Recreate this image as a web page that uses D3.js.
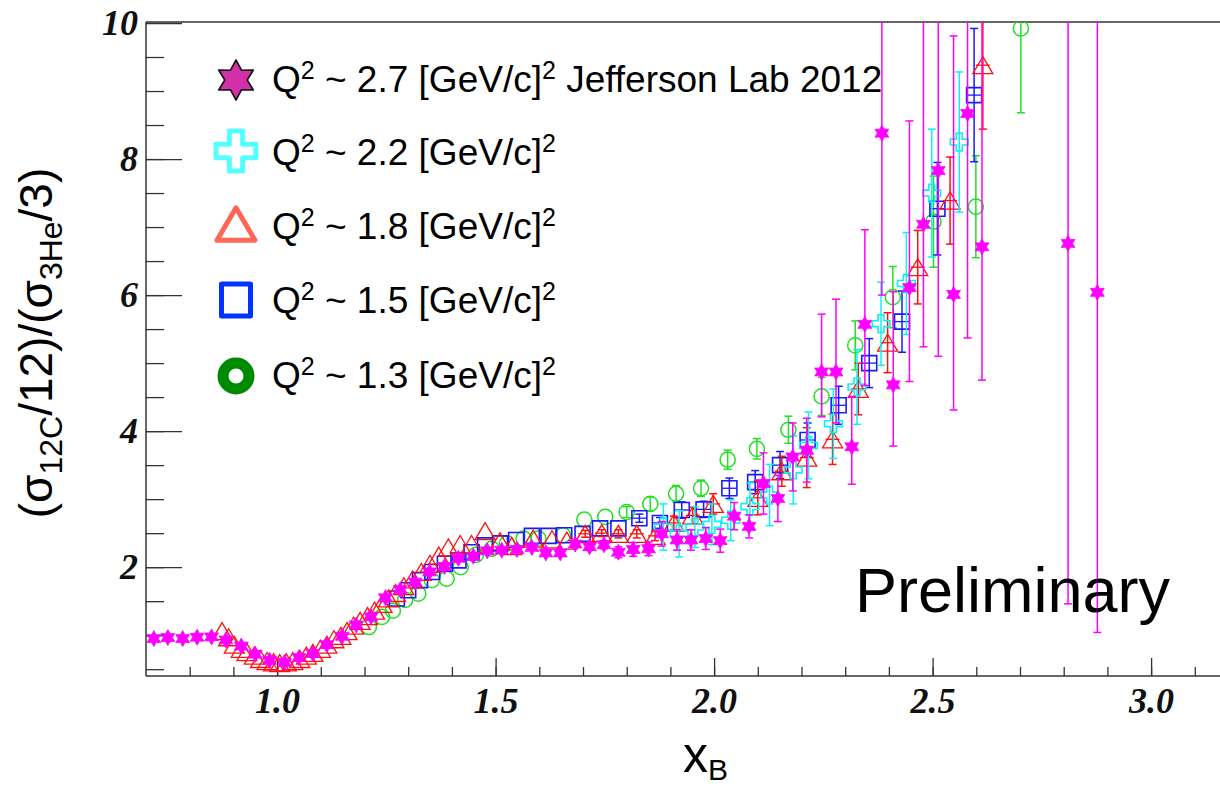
<!DOCTYPE html>
<html>
<head>
<meta charset="utf-8">
<script src="https://cdn.jsdelivr.net/npm/d3@7"></script>
<style>
body { margin: 0; background: #fff; }
</style>
</head>
<body>
<div id="graph"></div>
<script>
// values: ratio (sigma_12C/12)/(sigma_3He/3) vs x_B

// Q^2 ~ 2.7 Jefferson Lab 2012 (stars), asymmetric errors
const starX = [0.718, 0.75, 0.784, 0.817, 0.85, 0.883, 0.918, 0.95, 0.983, 1.017,
    1.05, 1.082, 1.114, 1.149, 1.181, 1.215, 1.248, 1.282, 1.316, 1.349,
    1.383, 1.415, 1.449, 1.481, 1.514, 1.549, 1.583, 1.615, 1.648, 1.682,
    1.715, 1.748, 1.781, 1.815, 1.85, 1.88, 1.915, 1.947, 1.981, 2.014,
    2.046, 2.08, 2.113, 2.146, 2.18, 2.212, 2.246, 2.279, 2.315, 2.345,
    2.384, 2.41, 2.447, 2.479, 2.513, 2.548, 2.58, 2.613, 2.81, 2.877];
const starY = [0.95, 0.965, 0.95, 0.97, 0.975, 0.93, 0.84, 0.72, 0.63, 0.60,
    0.67, 0.73, 0.86, 0.985, 1.15, 1.27, 1.55, 1.67, 1.78, 1.93,
    2.01, 2.13, 2.16, 2.24, 2.25, 2.26, 2.29, 2.21, 2.21, 2.34,
    2.30, 2.33, 2.22, 2.26, 2.27, 2.49, 2.40, 2.40, 2.42, 2.39,
    2.75, 2.60, 3.23, 3.01, 3.62, 3.72, 4.87, 4.87, 3.77, 5.57,
    8.38, 4.68, 6.11, 7.04, 7.83, 6.01, 8.67, 6.71, 6.76, 6.04];
const starErrLo = [0, 0, 0, 0, 0, 0, 0, 0, 0, 0,
    0, 0, 0, 0, 0, 0, 0, 0, 0, 0,
    0, 0, 0, 0, 0, 0, 0, 0, 0, 0.05,
    0.05, 0.06, 0.08, 0.1, 0.1, 0.18, 0.15, 0.15, 0.16, 0.17,
    0.2, 0.17, 0.45, 0.34, 0.5, 0.47, 0.66, 0.75, 0.55, 0.9,
    2.38, 0.9, 1.38, 1.8, 2.73, 1.7, 3.3, 1.96, 5.3, 5.0];
const starErrHi = [0, 0, 0, 0, 0, 0, 0, 0, 0, 0,
    0, 0, 0, 0, 0, 0, 0, 0, 0, 0,
    0, 0, 0, 0, 0, 0, 0, 0, 0, 0.05,
    0.05, 0.06, 0.08, 0.1, 0.1, 0.18, 0.15, 0.15, 0.16, 0.17,
    0.2, 0.17, 0.45, 0.34, 0.5, 0.47, 0.85, 1.07, 0.74, 1.39,
    5, 1.37, 2.45, 5, 5, 3.8, 5, 5, 5, 5];

// Q^2 ~ 2.2 (open crosses)
const crossX = [1.884, 1.92, 1.956, 1.995, 2.038, 2.082, 2.127, 2.181, 2.216, 2.273,
    2.327, 2.382, 2.44, 2.498, 2.561];
const crossY = [2.59, 2.49, 2.59, 2.63, 2.69, 2.89, 3.06, 3.43, 3.79, 4.11,
    4.65, 5.58, 6.17, 7.5, 8.25];
const crossErr = [0.34, 0.34, 0.3, 0.3, 0.3, 0.35, 0.45, 0.5, 0.49, 0.51,
    0.55, 0.61, 0.75, 0.94, 1.03];

// Q^2 ~ 1.8 (open triangles)
const triX = [0.874, 0.889, 0.902, 0.918, 0.931, 0.948, 0.962, 0.977, 0.992, 1.006,
    1.021, 1.036, 1.052, 1.067, 1.082, 1.099, 1.114, 1.13, 1.146, 1.16,
    1.175, 1.19, 1.207, 1.223, 1.24, 1.255, 1.271, 1.29, 1.31, 1.33,
    1.35, 1.37, 1.392, 1.419, 1.445, 1.476, 1.51, 1.537, 1.586, 1.629,
    1.663, 1.705, 1.743, 1.781, 1.823, 1.865, 1.908, 1.951, 1.998, 2.10,
    2.155, 2.212, 2.271, 2.33, 2.397, 2.466, 2.54, 2.615];
const triY = [1.06, 0.97, 0.86, 0.80, 0.75, 0.70, 0.65, 0.62, 0.60, 0.59,
    0.60, 0.62, 0.65, 0.70, 0.74, 0.80, 0.86, 0.94, 0.99, 1.06,
    1.14, 1.21, 1.28, 1.36, 1.46, 1.54, 1.62, 1.72, 1.82, 1.93,
    2.05, 2.17, 2.29, 2.34, 2.34, 2.53, 2.38, 2.31, 2.42, 2.41,
    2.39, 2.49, 2.50, 2.49, 2.49, 2.46, 2.65, 2.76, 2.93, 3.02,
    3.41, 3.61, 3.88, 4.62, 5.30, 6.41, 7.39, 9.38];
const triErr = [0, 0, 0, 0, 0, 0, 0, 0, 0, 0,
    0, 0, 0, 0, 0, 0, 0, 0, 0, 0,
    0, 0, 0, 0, 0, 0, 0, 0, 0, 0,
    0, 0, 0, 0, 0, 0, 0, 0, 0, 0,
    0, 0.05, 0.05, 0.06, 0.06, 0.07, 0.1, 0.12, 0.15, 0.25,
    0.22, 0.44, 0.37, 0.38, 0.44, 0.54, 0.64, 0.94];

// Q^2 ~ 1.5 (open squares)
const sqX = [1.274, 1.30, 1.327, 1.355, 1.384, 1.415, 1.445, 1.476, 1.51, 1.547,
    1.583, 1.621, 1.657, 1.699, 1.739, 1.781, 1.829, 1.876, 1.926, 1.976,
    2.035, 2.094, 2.151, 2.214, 2.285, 2.355, 2.43, 2.511, 2.595];
const sqY = [1.54, 1.66, 1.81, 1.93, 2.05, 2.10, 2.22, 2.32, 2.35, 2.40,
    2.46, 2.46, 2.47, 2.49, 2.57, 2.57, 2.72, 2.65, 2.84, 2.85,
    3.16, 3.25, 3.50, 3.87, 4.38, 5.0, 5.61, 7.27, 8.94];
const sqErr = [0, 0, 0, 0, 0, 0, 0, 0, 0, 0,
    0, 0, 0, 0, 0, 0, 0.06, 0.08, 0.12, 0.12,
    0.15, 0.17, 0.2, 0.25, 0.28, 0.36, 0.45, 0.68, 0.98];

// Q^2 ~ 1.3 (open circles)
const circX = [1.21, 1.24, 1.265, 1.293, 1.323, 1.354, 1.388, 1.42, 1.455, 1.491,
    1.526, 1.564, 1.598, 1.654, 1.703, 1.751, 1.80, 1.854, 1.913, 1.97,
    2.031, 2.098, 2.17, 2.246, 2.323, 2.409, 2.502, 2.599, 2.702];
const circY = [1.12, 1.27, 1.36, 1.52, 1.61, 1.81, 1.83, 2.0, 2.18, 2.27,
    2.35, 2.42, 2.42, 2.47, 2.70, 2.74, 2.81, 2.93, 3.08, 3.16,
    3.58, 3.74, 4.02, 4.51, 5.26, 5.97, 7.08, 7.30, 9.92];
const circErr = [0, 0, 0, 0, 0, 0, 0, 0, 0, 0,
    0, 0, 0, 0, 0, 0, 0.08, 0.1, 0.12, 0.12,
    0.14, 0.15, 0.2, 0.28, 0.36, 0.45, 0.67, 0.75, 1.24];

const xMajorTicks = [1.0, 1.5, 2.0, 2.5, 3.0];
const yMajorTicks = [2, 4, 6, 8, 10];
const legendQ2 = ["2.7", "2.2", "1.8", "1.5", "1.3"];
const legendExtra = [" Jefferson Lab 2012", "", "", "", ""];

const width = 1220, height = 787;
const plot = {left: 146, top: 22, right: 1220, bottom: 676};

let svg = d3.select('#graph')
    .append("svg")
    .attr("width", width)
    .attr("height", height)
    .style("display", "block");

let x = d3.scaleLinear().domain([0.7, 3.2]).range([146, 1238.5]);
let y = d3.scaleLinear().domain([0.4, 10]).range([676, 23]);

svg.append("clipPath").attr("id", "plotclip")
    .append("rect")
    .attr("x", plot.left).attr("y", plot.top)
    .attr("width", plot.right - plot.left).attr("height", plot.bottom - plot.top);

// ---- axes
const axisColor = "#333";
const tickFont = "'Liberation Serif', 'Times New Roman', serif";

let yMinor = svg.append("g").attr("transform", `translate(${plot.left},0)`)
    .call(d3.axisLeft(y).tickValues(d3.range(1, 20).map(d => d / 2)).tickSize(-18).tickSizeOuter(0).tickFormat(""));
let yMajor = svg.append("g").attr("transform", `translate(${plot.left},0)`)
    .call(d3.axisLeft(y).tickValues(yMajorTicks).tickSize(-36).tickSizeOuter(0).tickPadding(8).tickFormat(d3.format("d")));

let xMinor = svg.append("g").attr("transform", `translate(0,${plot.bottom})`)
    .call(d3.axisBottom(x).tickValues(d3.range(8, 33).map(d => d / 10)).tickSize(-9).tickSizeOuter(0).tickFormat(""));
let xMajor = svg.append("g").attr("transform", `translate(0,${plot.bottom})`)
    .call(d3.axisBottom(x).tickValues(xMajorTicks).tickSize(-18).tickSizeOuter(0).tickPadding(11).tickFormat(d3.format(".1f")));

[yMinor, yMajor, xMinor, xMajor].forEach(function(g) {
    g.selectAll("path.domain").remove();
    g.selectAll("line").attr("stroke", axisColor).attr("stroke-width", 1.3);
    g.selectAll("text")
        .attr("fill", "#111")
        .style("font-family", tickFont)
        .style("font-weight", "bold")
        .style("font-style", "italic")
        .style("font-size", "36px");
});

// frame: left, bottom, top
svg.append("line").attr("x1", plot.left).attr("x2", plot.left).attr("y1", plot.top).attr("y2", plot.bottom)
    .attr("stroke", axisColor).attr("stroke-width", 1.5);
svg.append("line").attr("x1", plot.left).attr("x2", plot.right).attr("y1", plot.bottom).attr("y2", plot.bottom)
    .attr("stroke", axisColor).attr("stroke-width", 1.5);
svg.append("line").attr("x1", plot.left).attr("x2", plot.right).attr("y1", plot.top).attr("y2", plot.top)
    .attr("stroke", axisColor).attr("stroke-width", 1.5);

// ---- marker shapes
const star6 = {
    draw: function(context, size) {
        let R = Math.sqrt(size), r = R * 0.56;
        for (let k = 0; k < 12; k++) {
            let a = -Math.PI / 2 + k * Math.PI / 6;
            let rr = (k % 2 === 0) ? R : r;
            if (k === 0) context.moveTo(rr * Math.cos(a), rr * Math.sin(a));
            else context.lineTo(rr * Math.cos(a), rr * Math.sin(a));
        }
        context.closePath();
    }
};
// triangle centred on its bounding box (size = half width squared)
const triBox = {
    draw: function(context, size) {
        let w = Math.sqrt(size), h = w * 0.85;
        context.moveTo(0, -h);
        context.lineTo(w, h);
        context.lineTo(-w, h);
        context.closePath();
    }
};
// rectangle for the legend square (size = half width squared)
const boxShape = {
    draw: function(context, size) {
        let w = Math.sqrt(size);
        context.rect(-w, -w * 1.1, 2 * w, 2.2 * w);
    }
};

function zip(xs, ys, lo, hi) {
    return xs.map(function(d, i) { return {x: d, y: ys[i], lo: lo[i], hi: hi[i]}; });
}

let series = [
    {name: "circ", data: zip(circX, circY, circErr, circErr), color: "#22e022", type: d3.symbolCircle, size: 180, fill: "none", sw: 1.5},
    {name: "sq", data: zip(sqX, sqY, sqErr, sqErr), color: "#1a1aff", type: d3.symbolSquare, size: 225, fill: "none", sw: 1.6, xerr: 7},
    {name: "tri", data: zip(triX, triY, triErr, triErr), color: "#ff1010", type: triBox, size: 100, fill: "none", sw: 1.3, xerr: 7},
    {name: "cross", data: zip(crossX, crossY, crossErr, crossErr), color: "#10f0f0", type: d3.symbolCross, size: 175, fill: "none", sw: 1.6},
    {name: "star", data: zip(starX, starY, starErrLo, starErrHi), color: "#ff00ff", type: star6, size: 64, fill: "#ff00ff", sw: 0.8}
];

let dataLayer = svg.append("g").attr("clip-path", "url(#plotclip)");

series.forEach(function(s) {
    let g = dataLayer.append("g").attr("class", s.name);
    let withErr = s.data.filter(d => d.lo + d.hi > 0);

    g.selectAll("line.ebar").data(withErr).enter().append("line")
        .attr("class", "ebar")
        .attr("x1", d => x(d.x)).attr("x2", d => x(d.x))
        .attr("y1", d => y(d.y - d.lo)).attr("y2", d => y(d.y + d.hi))
        .attr("stroke", s.color).attr("stroke-width", 1.5);
    g.selectAll("line.capLo").data(withErr).enter().append("line")
        .attr("class", "capLo")
        .attr("x1", d => x(d.x) - 4).attr("x2", d => x(d.x) + 4)
        .attr("y1", d => y(d.y - d.lo)).attr("y2", d => y(d.y - d.lo))
        .attr("stroke", s.color).attr("stroke-width", 1.5);
    g.selectAll("line.capHi").data(withErr).enter().append("line")
        .attr("class", "capHi")
        .attr("x1", d => x(d.x) - 4).attr("x2", d => x(d.x) + 4)
        .attr("y1", d => y(d.y + d.hi)).attr("y2", d => y(d.y + d.hi))
        .attr("stroke", s.color).attr("stroke-width", 1.5);
    if (s.xerr) {
        g.selectAll("line.xbar").data(withErr).enter().append("line")
            .attr("class", "xbar")
            .attr("x1", d => x(d.x) - s.xerr).attr("x2", d => x(d.x) + s.xerr)
            .attr("y1", d => y(d.y)).attr("y2", d => y(d.y))
            .attr("stroke", s.color).attr("stroke-width", 1.3);
    }

    g.selectAll("path.marker").data(s.data).enter().append("path")
        .attr("class", "marker")
        .attr("transform", d => `translate(${x(d.x)},${y(d.y)})`)
        .attr("d", d3.symbol().type(s.type).size(s.size))
        .attr("fill", s.fill)
        .attr("stroke", s.color)
        .attr("stroke-width", s.sw)
        .attr("stroke-linejoin", "miter");
});

// ---- legend
const sansFont = "'Liberation Sans', Arial, Helvetica, sans-serif";
const legendRows = [
    {base: 92, cy: 80, type: star6, size: 400, fill: "#d22fa8", stroke: "#111", sw: 1.6},
    {base: 165, cy: 151, type: d3.symbolCross, size: 880, fill: "none", stroke: "#55ffff", sw: 5},
    {base: 239, cy: 224, type: triBox, size: 361, fill: "none", stroke: "#ff6655", sw: 5},
    {base: 313, cy: 300, type: boxShape, size: 210, fill: "none", stroke: "#0033ff", sw: 5},
    {base: 388, cy: 376, type: d3.symbolCircle, size: Math.PI * 13 * 13, fill: "none", stroke: "#008a00", sw: 11}
];

let legend = svg.append("g");
legendRows.forEach(function(r, i) {
    legend.append("path")
        .attr("transform", `translate(236,${r.cy})`)
        .attr("d", d3.symbol().type(r.type).size(r.size))
        .attr("fill", r.fill)
        .attr("stroke", r.stroke)
        .attr("stroke-width", r.sw)
        .attr("stroke-linejoin", "round");

    let t = legend.append("text")
        .attr("x", 272).attr("y", r.base)
        .style("font-family", sansFont)
        .style("font-size", "37px")
        .attr("fill", "#000");
    t.append("tspan").text("Q");
    t.append("tspan").attr("dy", -13).style("font-size", "25px").text("2");
    t.append("tspan").attr("dy", 13).text(" ~ " + legendQ2[i] + " [GeV/c]");
    t.append("tspan").attr("dy", -13).style("font-size", "25px").text("2");
    t.append("tspan").attr("dy", 13).text(legendExtra[i]);
});

// ---- titles
svg.append("text")
    .attr("x", 855).attr("y", 612)
    .style("font-family", sansFont)
    .style("font-size", "63px")
    .attr("fill", "#000")
    .text("Preliminary");

let xt = svg.append("text")
    .attr("x", 683).attr("y", 772)
    .style("font-family", sansFont)
    .style("font-size", "50px")
    .attr("fill", "#000");
xt.append("tspan").text("x");
xt.append("tspan").attr("dy", 8).style("font-size", "30px").text("B");

// y title, scaled so that it spans about 353 px like the original
function drawYTitle(scale) {
    let yt = svg.append("text")
        .attr("transform", `translate(52, 343) rotate(-90)`)
        .style("text-anchor", "middle")
        .style("font-family", sansFont)
        .style("font-size", (46 * scale) + "px")
        .attr("fill", "#000");
    let sub = (32 * scale) + "px", dd = 10 * scale;
    yt.append("tspan").text("(σ");
    yt.append("tspan").attr("dy", dd).style("font-size", sub).text("12C");
    yt.append("tspan").attr("dy", -dd).text("/12)/(σ");
    yt.append("tspan").attr("dy", dd).style("font-size", sub).text("3He");
    yt.append("tspan").attr("dy", -dd).text("/3)");
    return yt;
}
let ytFirst = drawYTitle(1);
let ytLen = ytFirst.node().getComputedTextLength();
ytFirst.remove();
drawYTitle(ytLen > 0 ? Math.min(1, 353 / ytLen) : 0.9);
</script>
</body>
</html>
